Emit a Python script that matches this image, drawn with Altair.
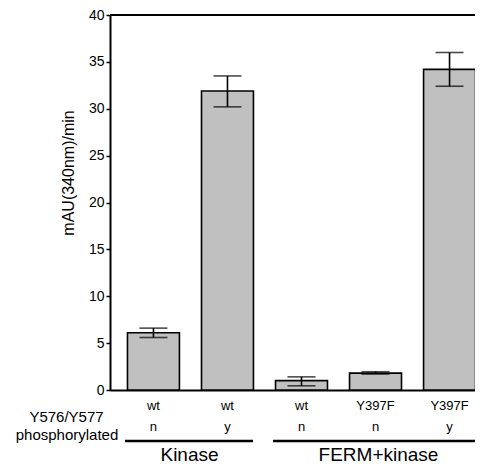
import altair as alt
import pandas as pd

keys = ["c1", "c2", "c3", "c4", "c5"]
mutation = ["wt", "wt", "wt", "Y397F", "Y397F"]
phospho = ["n", "y", "n", "n", "y"]
values = [6.1, 31.9, 1.0, 1.8, 34.2]
err_lo = [5.6, 30.2, 0.45, 1.7, 32.4]
err_hi = [6.6, 33.5, 1.4, 1.95, 36.0]
y_ticks = [0, 5, 10, 15, 20, 25, 30, 35, 40]

df = pd.DataFrame({"key": keys, "mut": mutation, "ph": phospho,
                   "v": values, "lo": err_lo, "hi": err_hi})

FONT = "Liberation Sans"
W, H = 365, 375

xs = alt.Scale(domain=keys, range=[0, 383], paddingInner=0.298, paddingOuter=0.236)
ys = alt.Scale(domain=[0, 40], nice=False)

base = alt.Chart(df)

bars = base.mark_bar(fill="#c0c0c0", stroke="black", strokeWidth=1.6).encode(
    x=alt.X("key:N", scale=xs,
            axis=alt.Axis(labels=False, ticks=False, title=None, domain=True,
                          domainColor="black", domainWidth=2)),
    y=alt.Y("v:Q", scale=ys,
            axis=alt.Axis(values=y_ticks, grid=False, tickSize=4, tickWidth=1.5,
                          tickColor="black", domainColor="black", domainWidth=2,
                          labelFont=FONT, labelFontSize=14, labelColor="black",
                          labelPadding=2, title="mAU(340nm)/min",
                          titleFont=FONT, titleFontSize=16, titleFontWeight="normal",
                          titleColor="black", titleAngle=270, titleAlign="center",
                          titleBaseline="middle", titleX=-42, titleY=157.5)),
)

err = base.mark_rule(color="black", strokeWidth=1.6).encode(
    x=alt.X("key:N", scale=xs), y=alt.Y("lo:Q", scale=ys), y2="hi:Q")
cap_lo = base.mark_tick(color="black", thickness=1.6, size=28).encode(
    x=alt.X("key:N", scale=xs), y=alt.Y("lo:Q", scale=ys))
cap_hi = base.mark_tick(color="black", thickness=1.6, size=28).encode(
    x=alt.X("key:N", scale=xs), y=alt.Y("hi:Q", scale=ys))

top_frame = alt.Chart(pd.DataFrame({"t": [40]})).mark_rule(
    color="black", strokeWidth=2).encode(
    y=alt.Y("t:Q", scale=ys), x=alt.value(0), x2=alt.value(383))

row1 = base.mark_text(font=FONT, fontSize=13, baseline="alphabetic", color="black").encode(
    x=alt.X("key:N", scale=xs), y=alt.value(395), text="mut:N")
row2 = base.mark_text(font=FONT, fontSize=13, baseline="alphabetic", color="black").encode(
    x=alt.X("key:N", scale=xs), y=alt.value(416), text="ph:N")

one = pd.DataFrame({"a": [0]})
lab1 = alt.Chart(one).mark_text(text="Y576/Y577", font=FONT, fontSize=15,
                                baseline="alphabetic", color="black").encode(
    x=alt.value(-43.5), y=alt.value(407))
lab2 = alt.Chart(one).mark_text(text="phosphorylated", font=FONT, fontSize=15,
                                baseline="alphabetic", color="black").encode(
    x=alt.value(-43), y=alt.value(425))

line1 = alt.Chart(one).mark_rule(color="black", strokeWidth=2.5).encode(
    x=alt.value(15), x2=alt.value(143), y=alt.value(426))
line2 = alt.Chart(one).mark_rule(color="black", strokeWidth=2.5).encode(
    x=alt.value(163), x2=alt.value(380), y=alt.value(426))
g1 = alt.Chart(one).mark_text(text="Kinase", font=FONT, fontSize=19,
                              baseline="alphabetic", color="black").encode(
    x=alt.value(79.5), y=alt.value(446))
g2 = alt.Chart(one).mark_text(text="FERM+kinase", font=FONT, fontSize=19,
                              baseline="alphabetic", color="black").encode(
    x=alt.value(268.5), y=alt.value(446))

chart = alt.layer(
    bars, err, cap_lo, cap_hi, top_frame, row1, row2, lab1, lab2, line1, line2, g1, g2
).properties(
    width=W, height=H,
    autosize=alt.AutoSizeParams(type="none"),
    padding={"left": 102, "top": 7, "right": 0, "bottom": 76},
).configure_view(stroke=None).configure(background="white")

chart.save("out.html", embed_options={"renderer": "svg", "actions": False})
